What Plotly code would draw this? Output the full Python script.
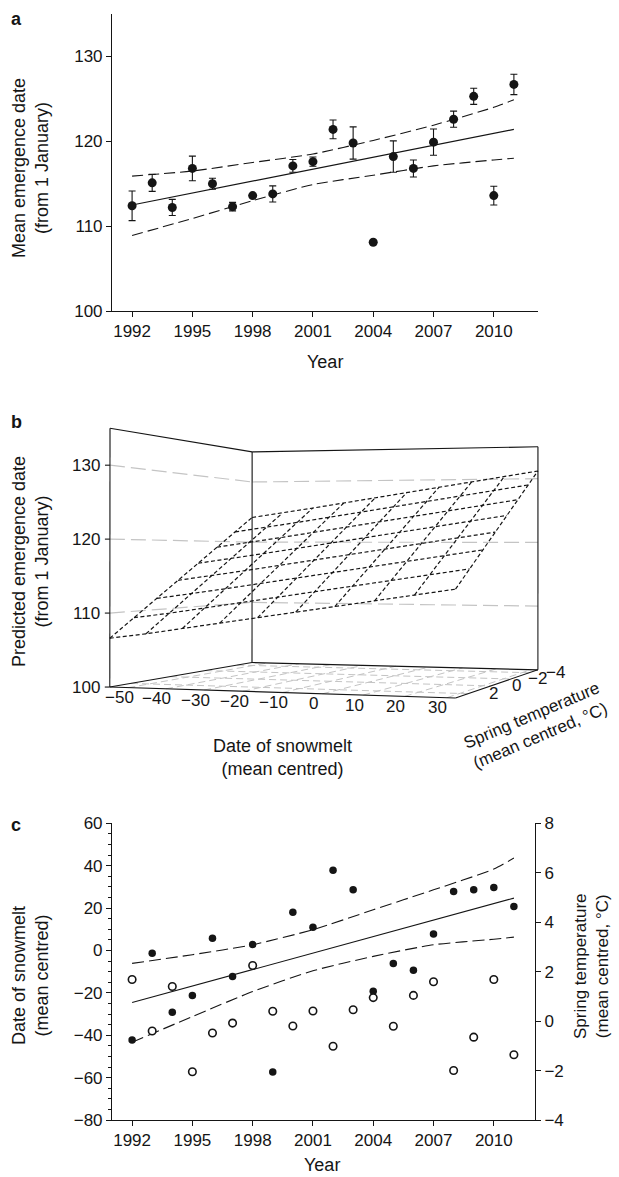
import numpy as np
import plotly.graph_objects as go

# ---------------- data ----------------
YEARS = [1992, 1993, 1994, 1995, 1996, 1997, 1998, 1999, 2000, 2001,
         2002, 2003, 2004, 2005, 2006, 2007, 2008, 2009, 2010, 2011]
YEAR_TICKS = [1992, 1995, 1998, 2001, 2004, 2007, 2010]

# panel a
EMERGENCE = [112.4, 115.1, 112.2, 116.8, 115.0, 112.3, 113.6, 113.8, 117.1, 117.6,
             121.4, 119.8, 108.1, 118.2, 116.8, 119.9, 122.6, 125.3, 113.6, 126.7]
EMERGENCE_ERR = [1.75, 1.0, 0.95, 1.45, 0.65, 0.5, 0.15, 0.95, 0.75, 0.55,
                 1.1, 1.9, 0.0, 1.85, 1.0, 1.55, 0.95, 0.95, 1.1, 1.2]
FIT_YEARS = [1992, 2011]
A_FIT = [112.5, 121.4]
BAND_YEARS = [1992, 1995, 1998, 2001, 2004, 2007, 2010, 2011]
A_UPPER = [115.9, 116.5, 117.5, 118.5, 120.1, 121.9, 124.0, 124.9]
A_LOWER = [108.9, 110.9, 113.0, 114.9, 116.0, 117.1, 117.8, 118.0]
A_YTICKS = [100, 110, 120, 130]

# panel b (predicted surface)
SNOW_GRID = [-55.0, -45.3, -35.7, -26.0, -16.3, -6.7, 3.0, 12.7, 22.3, 32.0]
TEMP_GRID = [3.0, 1.86, 0.71, -0.43, -1.57, -2.71, -3.86, -5.0]
PRED = [
    [106.6, 107.3, 108.1, 108.9, 109.7, 110.5, 111.3, 112.1, 112.9, 113.7],
    [109.1, 109.8, 110.6, 111.4, 112.2, 113.0, 113.8, 114.6, 115.4, 116.2],
    [111.6, 112.3, 113.1, 113.9, 114.7, 115.5, 116.3, 117.1, 117.9, 118.7],
    [114.1, 114.8, 115.6, 116.4, 117.2, 118.0, 118.8, 119.6, 120.4, 121.2],
    [116.6, 117.3, 118.1, 118.9, 119.7, 120.5, 121.3, 122.1, 122.9, 123.7],
    [119.1, 119.8, 120.6, 121.4, 122.2, 123.0, 123.8, 124.6, 125.4, 126.2],
    [121.6, 122.3, 123.1, 123.9, 124.7, 125.5, 126.3, 127.1, 127.9, 128.7],
    [124.1, 124.8, 125.6, 126.4, 127.2, 128.0, 128.8, 129.6, 130.4, 131.2],
]
Z_TICKS = [100, 110, 120, 130]
Z_GRID = [110, 120, 130]
SNOW_TICKS = [-50, -40, -30, -20, -10, 0, 10, 20, 30]
TEMP_TICKS = [2, 0, -2, -4]

# panel c
SNOWMELT = [-42.2, -1.3, -29.1, -21.3, 5.8, -12.3, 2.8, -57.3, 18.0, 10.9,
            37.8, 28.6, -19.3, -6.2, -9.3, 7.8, 27.8, 28.6, 29.7, 20.8]
SPRING_T = [1.68, -0.40, 1.40, -2.05, -0.48, -0.08, 2.25, 0.40, -0.20, 0.41,
            -1.02, 0.46, 0.95, -0.21, 1.04, 1.59, -2.00, -0.65, 1.68, -1.36]
C_FIT = [-24.6, 24.7]
C_UPPER = [-6.1, -2.0, 2.7, 9.8, 19.2, 28.6, 38.4, 43.6]
C_LOWER = [-43.3, -31.2, -19.4, -9.6, -2.8, 2.7, 5.3, 6.3]

# ---------------- layout constants ----------------
W, H = 619, 1177
INK = "#151515"
GREY = "#c4c4c4"
FONT = "Liberation Sans, Arial, Helvetica, sans-serif"
TICK_SIZE = 17
TITLE_SIZE = 18

def fx(p):
    return p / W

def fy(p):
    return 1 - p / H

# box limits of the 3-D panel
SNOW_LIM = (-55.0, 32.0)
TEMP_LIM = (3.0, -5.0)     # front -> back
Z_LIM = (100.0, 135.0)

# screen anchors of the 3-D box (unit cube corners -> page pixels), used to fit the camera
CAM_ANCHORS = [
    ((0, 0, 0), (110, 687)), ((1, 0, 0), (455, 699)), ((1, 1, 0), (538, 669.5)),
    ((0, 1, 0), (252, 663)), ((0, 0, 1), (110, 428)), ((0, 1, 1), (252, 452)),
    ((1, 1, 1), (538, 446)),
    ((0, 0, 2 / 7), (110, 612.7)), ((0, 0, 4 / 7), (110, 539)), ((0, 0, 6 / 7), (110, 465)),
    ((0, 1, 2 / 7), (252, 602.7)), ((0, 1, 4 / 7), (252, 541.7)), ((0, 1, 6 / 7), (252, 482.3)),
    ((1, 1, 2 / 7), (538, 605)), ((1, 1, 4 / 7), (538, 541.7)), ((1, 1, 6 / 7), (538, 480.7)),
]


def fit_camera(anchors):
    wpts = np.array([a[0] for a in anchors], float)
    spts = np.array([a[1] for a in anchors], float)
    mu = spts.mean(0)
    sc = spts.std()
    sn = (spts - mu) / sc
    rows = []
    for X, (x, y) in zip(wpts, sn):
        Xh = np.r_[X, 1.0]
        rows.append(np.r_[Xh, np.zeros(4), -x * Xh])
        rows.append(np.r_[np.zeros(4), Xh, -y * Xh])
    _, _, vt = np.linalg.svd(np.array(rows))
    return vt[-1].reshape(3, 4), mu, sc


CAM = fit_camera(CAM_ANCHORS)


def project(u, v, w):
    P, mu, sc = CAM
    u = np.atleast_1d(np.asarray(u, float))
    v = np.broadcast_to(np.asarray(v, float), u.shape)
    w = np.broadcast_to(np.asarray(w, float), u.shape)
    X = np.vstack([u, v, w, np.ones_like(u)])
    h = P @ X
    return h[0] / h[2] * sc + mu[0], h[1] / h[2] * sc + mu[1]


def to_u(s):
    return (np.asarray(s, float) - SNOW_LIM[0]) / (SNOW_LIM[1] - SNOW_LIM[0])


def to_v(t):
    return (TEMP_LIM[0] - np.asarray(t, float)) / (TEMP_LIM[0] - TEMP_LIM[1])


def to_w(z):
    return (np.asarray(z, float) - Z_LIM[0]) / (Z_LIM[1] - Z_LIM[0])


def segs(list_of_uvw):
    xs, ys = [], []
    for u, v, w in list_of_uvw:
        x, y = project(u, v, w)
        xs += list(x) + [None]
        ys += list(y) + [None]
    return xs, ys


fig = go.Figure()

# ---------------- panel a ----------------
fig.add_trace(go.Scatter(x=BAND_YEARS, y=A_UPPER, mode="lines", xaxis="x", yaxis="y",
                         line=dict(color=INK, width=1.1, dash="11px,5px", shape="spline", smoothing=0.6)))
fig.add_trace(go.Scatter(x=BAND_YEARS, y=A_LOWER, mode="lines", xaxis="x", yaxis="y",
                         line=dict(color=INK, width=1.1, dash="11px,5px", shape="spline", smoothing=0.6)))
fig.add_trace(go.Scatter(x=FIT_YEARS, y=A_FIT, mode="lines", xaxis="x", yaxis="y",
                         line=dict(color=INK, width=1.1)))
fig.add_trace(go.Scatter(x=YEARS, y=EMERGENCE, mode="markers", xaxis="x", yaxis="y",
                         marker=dict(size=9, color=INK),
                         error_y=dict(type="data", array=EMERGENCE_ERR, visible=True,
                                      color=INK, thickness=1.1, width=3.5)))

# ---------------- panel b ----------------
u0 = np.array([0.0, 1.0])
# floor grid
floor = []
for s in SNOW_TICKS:
    floor.append((np.full(2, float(to_u(s))), np.array([0.0, 1.0]), np.zeros(2)))
for t in TEMP_TICKS:
    floor.append((u0, np.full(2, float(to_v(t))), np.zeros(2)))
xs, ys = segs(floor)
fig.add_trace(go.Scatter(x=xs, y=ys, mode="lines", xaxis="x4", yaxis="y4",
                         line=dict(color=GREY, width=1.0, dash="7px,4px")))
# wall grid
walls = []
for z in Z_GRID:
    wz = float(to_w(z))
    walls.append((np.zeros(2), np.array([0.0, 1.0]), np.full(2, wz)))
    walls.append((np.array([0.0, 1.0]), np.ones(2), np.full(2, wz)))
xs, ys = segs(walls)
fig.add_trace(go.Scatter(x=xs, y=ys, mode="lines", xaxis="x4", yaxis="y4",
                         line=dict(color=GREY, width=1.2, dash="15px,6px")))
# box
box = [
    ((0, 0), (0, 0), (0, 1)), ((0, 0), (1, 1), (0, 1)), ((1, 1), (1, 1), (0, 1)),
    ((0, 0), (0, 1), (1, 1)), ((0, 1), (1, 1), (1, 1)),
    ((0, 0), (0, 1), (0, 0)), ((0, 1), (1, 1), (0, 0)),
    ((0, 1), (0, 0), (0, 0)), ((1, 1), (0, 1), (0, 0)),
]
xs, ys = segs([tuple(np.array(c, float) for c in b) for b in box])
fig.add_trace(go.Scatter(x=xs, y=ys, mode="lines", xaxis="x4", yaxis="y4",
                         line=dict(color=INK, width=1.1)))
# z ticks
zt = []
for z in Z_TICKS:
    x, y = project(0, 0, float(to_w(z)))
    zt.append((x[0], y[0]))
fig.add_trace(go.Scatter(x=sum([[x, x - 5, None] for x, y in zt], []),
                         y=sum([[y, y, None] for x, y in zt], []),
                         mode="lines", xaxis="x4", yaxis="y4",
                         line=dict(color=INK, width=1.1)))
# surface wireframe
PRED_A = np.array(PRED)
surf = []
uu = to_u(SNOW_GRID)
for j, t in enumerate(TEMP_GRID):
    surf.append((uu, np.full(len(uu), float(to_v(t))), to_w(PRED_A[j])))
for i, s in enumerate(SNOW_GRID):
    vv = to_v(TEMP_GRID)
    surf.append((np.full(len(vv), float(to_u(s))), vv, to_w(PRED_A[:, i])))
xs, ys = segs(surf)
fig.add_trace(go.Scatter(x=xs, y=ys, mode="lines", xaxis="x4", yaxis="y4",
                         line=dict(color=INK, width=1.2, dash="4px,2.5px")))

# ---------------- panel c ----------------
fig.add_trace(go.Scatter(x=BAND_YEARS, y=C_UPPER, mode="lines", xaxis="x2", yaxis="y2",
                         line=dict(color=INK, width=1.1, dash="12px,5px", shape="spline", smoothing=0.6)))
fig.add_trace(go.Scatter(x=BAND_YEARS, y=C_LOWER, mode="lines", xaxis="x2", yaxis="y2",
                         line=dict(color=INK, width=1.1, dash="12px,5px", shape="spline", smoothing=0.6)))
fig.add_trace(go.Scatter(x=FIT_YEARS, y=C_FIT, mode="lines", xaxis="x2", yaxis="y2",
                         line=dict(color=INK, width=1.1)))
fig.add_trace(go.Scatter(x=YEARS, y=SPRING_T, mode="markers", xaxis="x2", yaxis="y3",
                         marker=dict(size=7.5, color="white", line=dict(color=INK, width=1.6))))
fig.add_trace(go.Scatter(x=YEARS, y=SNOWMELT, mode="markers", xaxis="x2", yaxis="y2",
                         marker=dict(size=7.5, color=INK)))

# ---------------- axes ----------------
ax_common = dict(showgrid=False, zeroline=False, showline=True, linecolor=INK, linewidth=1.1,
                 ticks="outside", ticklen=5, tickwidth=1.1, tickcolor=INK,
                 tickfont=dict(size=TICK_SIZE, color=INK, family=FONT), automargin=False)

annotations = []


def ann(text, x, y, size=TITLE_SIZE, angle=0, xanchor="center", yanchor="middle", ref="paper"):
    d = dict(text=text, x=x, y=y, showarrow=False, textangle=angle,
             xanchor=xanchor, yanchor=yanchor,
             font=dict(size=size, color=INK, family=FONT))
    if ref == "paper":
        d.update(xref="paper", yref="paper")
    else:
        d.update(xref="x4", yref="y4")
    annotations.append(d)


# panel letters
ann("<b>a</b>", fx(16), fy(19), size=18)
ann("<b>b</b>", fx(16), fy(422), size=18)
ann("<b>c</b>", fx(16), fy(825), size=18)

# titles a
ann("Mean emergence date<br>(from 1 January)", fx(30), fy(168), angle=-90)
ann("Year", fx(325), fy(362))
# titles b
ann("Predicted emergence date<br>(from 1 January)", fx(30), fy(562), angle=-90)
ann("Date of snowmelt<br>(mean centred)", fx(282), fy(757))
ann("Spring temperature<br>(mean centred, °C)", fx(536), fy(725), size=17, angle=-23)
# titles c
ann("Date of snowmelt<br>(mean centred)", fx(30), fy(976), angle=-90)
ann("Spring temperature<br>(mean centred, °C)", fx(591), fy(966), size=17, angle=-90)
ann("Year", fx(322), fy(1165))

# 3-D tick labels
for z in Z_TICKS:
    x, y = project(0, 0, float(to_w(z)))
    ann(str(z), x[0] - 8, y[0], size=TICK_SIZE, xanchor="right", ref="x4")
for s in SNOW_TICKS:
    x, y = project(float(to_u(s)), 0, 0)
    ann(str(s).replace("-", "\u2212"), x[0] - 9, y[0] + 10, size=TICK_SIZE, ref="x4")
for t in TEMP_TICKS:
    x, y = project(1, float(to_v(t)), 0)
    ann(str(t).replace("-", "\u2212"), x[0] + 26, y[0], size=TICK_SIZE, ref="x4")

fig.update_layout(
    width=W, height=H, margin=dict(l=0, r=0, t=0, b=0),
    paper_bgcolor="white", plot_bgcolor="rgba(0,0,0,0)",
    showlegend=False, font=dict(family=FONT, color=INK),
    xaxis=dict(ax_common, domain=[fx(112), fx(538)], range=[1991.0, 2012.2],
               tickvals=YEAR_TICKS, anchor="y"),
    yaxis=dict(ax_common, domain=[fy(311), fy(14)], range=[100, 135],
               tickvals=A_YTICKS, anchor="x"),
    xaxis2=dict(ax_common, domain=[fx(112), fx(535)], range=[1991.0, 2012.05],
                tickvals=YEAR_TICKS, anchor="y2"),
    yaxis2=dict(ax_common, domain=[fy(1120), fy(823.3)], range=[-80, 60],
                tick0=-80, dtick=20, anchor="x2",
                minor=dict(dtick=5, tick0=-80, ticks="outside", ticklen=3, tickwidth=1, tickcolor=INK)),
    yaxis3=dict(ax_common, overlaying="y2", side="right", anchor="x2",
                range=[-4, 8], tick0=-4, dtick=2),
    xaxis4=dict(domain=[0, 1], range=[0, W], visible=False, anchor="y4", fixedrange=True),
    yaxis4=dict(domain=[fy(790), fy(400)], range=[790, 400], visible=False, anchor="x4", fixedrange=True),
    annotations=annotations,
)
for tr in fig.data:
    tr.showlegend = False
    tr.hoverinfo = "skip"

fig.write_html(
    "out.html",
    config={"displayModeBar": False},
    post_script="document.body.style.margin='0';document.body.style.overflow='hidden';",
)
